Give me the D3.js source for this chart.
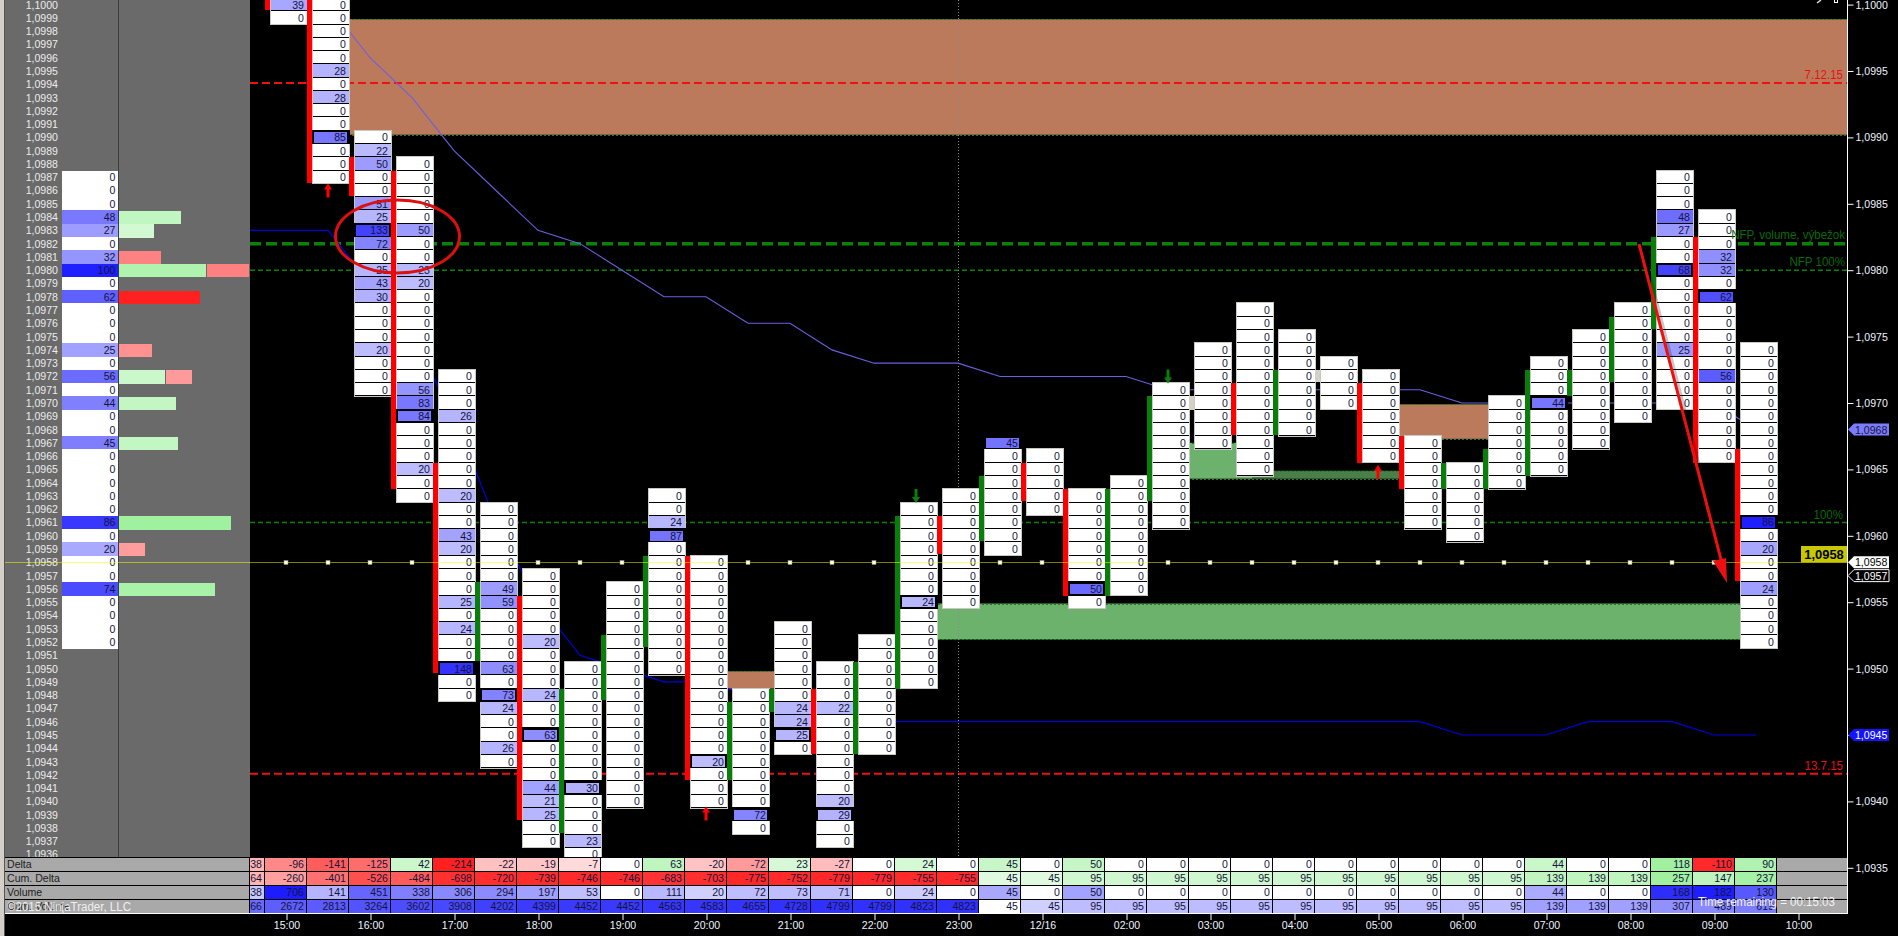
<!DOCTYPE html>
<html><head><meta charset="utf-8">
<script src="https://cdnjs.cloudflare.com/ajax/libs/d3/7.8.5/d3.min.js"></script>
<style>
html,body{margin:0;padding:0;background:#000;overflow:hidden}
svg{display:block}
text{font-family:"Liberation Sans",Arial,sans-serif;font-size:11px}
</style></head><body><svg id="c" width="1898" height="936"></svg>
<script>
// ---------- data ----------
const deltaRow   =[-38,-96,-141,-125,42,-214,-22,-19,-7,0,63,-20,-72,23,-27,0,24,0,45,0,50,0,0,0,0,0,0,0,0,0,0,44,0,0,118,-110,90];
const cumDelta   =[-164,-260,-401,-526,-484,-698,-720,-739,-746,-746,-683,-703,-775,-752,-779,-779,-755,-755,45,45,95,95,95,95,95,95,95,95,95,95,95,139,139,139,257,147,237];
const volumeRow  =[38,706,141,451,338,306,294,197,53,0,111,20,72,73,71,0,24,0,45,0,50,0,0,0,0,0,0,0,0,0,0,44,0,0,168,182,130];
const cumVolume  =[1966,2672,2813,3264,3602,3908,4202,4399,4452,4452,4563,4583,4655,4728,4799,4799,4823,4823,45,45,95,95,95,95,95,95,95,95,95,95,95,139,139,139,307,489,619];
const rowNames   =["Delta","Cum. Delta","Volume","Cum. Volume"];
const ladderTop  =[null,1.1000,1.1000,1.0990,1.0988,1.0972,1.0962,1.0957,1.0950,1.0956,1.0963,1.0958,1.0948,1.0953,1.0950,1.0952,1.0962,1.0963,1.0967,1.0966,1.0963,1.0964,1.0971,1.0974,1.0977,1.0975,1.0973,1.0972,1.0967,1.0965,1.0970,1.0973,1.0975,1.0977,1.0987,1.0984,1.0974];
const ladderValues=[[],
[39,0],
[0,0,0,0,0,28,0,28,0,0,85,0,0,0],
[0,22,50,0,0,51,25,133,72,0,25,43,30,0,0,0,20,0,0,0],
[0,0,0,0,0,50,0,0,23,20,0,0,0,0,0,0,0,56,83,84,0,0,0,20,0,0],
[0,0,0,26,0,0,0,0,0,20,0,0,43,20,0,0,0,25,0,24,0,0,148,0,0],
[0,0,0,0,0,0,49,59,0,0,0,0,63,0,73,24,0,0,26,0],
[0,0,0,0,0,20,0,0,0,24,0,0,63,0,0,0,44,21,25,0,0],
[0,0,0,0,0,0,0,0,0,30,0,0,0,23,0],
[0,0,0,0,0,0,0,0,0,0,0,0,0,0,0,0,0],
[0,0,24,87,0,0,0,0,0,0,0,0,0,0],
[0,0,0,0,0,0,0,0,0,0,0,0,0,0,0,20,0,0,0],
[0,0,0,0,0,0,0,0,0,72,0],
[0,0,0,0,0,0,24,24,25,0],
[0,0,0,22,0,0,0,0,0,0,20,29,0,0],
[0,0,0,0,0,0,0,0,0],
[0,0,0,0,0,0,0,24,0,0,0,0,0,0],
[0,0,0,0,0,0,0,0,0],
[45,0,0,0,0,0,0,0,0],
[0,0,0,0,0],
[0,0,0,0,0,0,0,50,0],
[0,0,0,0,0,0,0,0,0],
[0,0,0,0,0,0,0,0,0,0,0],
[0,0,0,0,0,0,0,0],
[0,0,0,0,0,0,0,0,0,0,0,0,0],
[0,0,0,0,0,0,0,0],
[0,0,0,0],
[0,0,0,0,0,0,0],
[0,0,0,0,0,0,0],
[0,0,0,0,0,0],
[0,0,0,0,0,0,0],
[0,0,0,44,0,0,0,0,0],
[0,0,0,0,0,0,0,0,0],
[0,0,0,0,0,0,0,0,0],
[0,0,0,48,27,0,0,68,0,0,0,0,0,25,0,0,0,0],
[0,0,0,32,32,0,62,0,0,0,0,0,56,0,0,0,0,0,0],
[0,0,0,0,0,0,0,0,0,0,0,0,0,86,0,20,0,0,24,0,0,0,0]];
const candleHigh=[null,1.1005,1.1005,1.09885,1.09875,1.09655,1.09565,1.09555,1.09485,1.09525,1.09585,1.09585,1.09475,1.09485,1.09485,1.09505,1.09615,1.09615,1.09645,1.09655,1.09635,1.09635,1.09705,1.09705,1.09715,1.09725,1.09725,1.09715,1.09675,1.09655,1.09665,1.09725,1.09725,1.09765,1.09825,1.09825,1.09665];
const candleLow =[null,1.09996,1.09866,1.09856,1.09635,1.09497,1.09506,1.09386,1.09376,1.09476,1.09516,1.09416,1.09416,1.09467,1.09436,1.09436,1.09485,1.09586,1.09596,1.09626,1.09555,1.09555,1.09626,1.09695,1.09676,1.09676,1.09716,1.09655,1.09635,1.09635,1.09635,1.09645,1.09705,1.09716,1.09756,1.09655,1.09566];
const candleDir =[0,-1,-1,-1,-1,-1,1,-1,1,1,1,-1,1,1,-1,1,1,-1,1,-1,-1,1,1,0,-1,1,0,-1,-1,1,1,1,1,1,1,-1,-1];
const upperLine =[null,1.1004,1.1000,1.0996,1.0993,1.0989,1.0986,1.0983,1.0982,1.0980,1.0978,1.0978,1.0976,1.0976,1.0974,1.0973,1.0973,1.0973,1.0972,1.0972,1.0972,1.0972,1.0971,1.0971,1.0971,1.0971,1.0971,1.0971,1.0971,1.0970,1.0970,1.0970,1.0970,1.0970,1.0970,1.0970,1.0968];
const lowerLine =[1.0983,1.0983,1.0983,1.0979,1.0975,1.0969,1.0961,1.0955,1.0951,1.0950,1.0949,1.0949,1.0948,1.0947,1.0946,1.0946,1.0946,1.0946,1.0946,1.0946,1.0946,1.0946,1.0946,1.0946,1.0946,1.0946,1.0946,1.0946,1.0946,1.0945,1.0945,1.0945,1.0946,1.0946,1.0946,1.0945,1.0945];
const profilePrices=[1.0987,1.0986,1.0985,1.0984,1.0983,1.0982,1.0981,1.0980,1.0979,1.0978,1.0977,1.0976,1.0975,1.0974,1.0973,1.0972,1.0971,1.0970,1.0969,1.0968,1.0967,1.0966,1.0965,1.0964,1.0963,1.0962,1.0961,1.0960,1.0959,1.0958,1.0957,1.0956,1.0955,1.0954,1.0953,1.0952];
const profileVol =[0,0,0,48,27,0,32,100,0,62,0,0,0,25,0,56,0,44,0,0,45,0,0,0,0,0,86,0,20,0,0,74,0,0,0,0];
const profileBuy =[0,0,0,48,27,0,0,67,0,0,0,0,0,0,0,35,0,44,0,0,45,0,0,0,0,0,86,0,0,0,0,74,0,0,0,0];
const profileSell=[0,0,0,0,0,0,32,33,0,62,0,0,0,25,0,21,0,0,0,0,0,0,0,0,0,0,0,0,20,0,0,0,0,0,0,0];
const timeBars   =[1,3,5,7,9,11,13,15,17,19,21,23,25,27,29,31,33,35,37];
const timeLabels =["15:00","16:00","17:00","18:00","19:00","20:00","21:00","22:00","23:00","12/16","02:00","03:00","04:00","05:00","06:00","07:00","08:00","09:00","10:00"];
const priceTicks =[1.1000,1.0995,1.0990,1.0985,1.0980,1.0975,1.0970,1.0965,1.0960,1.0955,1.0950,1.0945,1.0940,1.0935];
const levelNames =["7.12.15","13.7.15"];
const levelPrices=[1.0994,1.0942];
const greenLevels=[1.0982,1.0980,1.0961];
const greenNames =["NFP, volume, výbežok","NFP 100%","100%"];
const lastPrice  =1.0958, askPrice=1.0957, upperLast=1.0968, lowerLast=1.0945;
const upArrowBars=[2,11,27], upArrowPrices=[1.09866,1.09397,1.09654];
const downArrowBars=[16,22], downArrowPrices=[1.09624,1.09714];

// ---------- scales ----------
const W=1898,H=936,chartL=250,chartR=1847,chartB=857;
const x=d3.scaleLinear().domain([0,36]).range([244,1756]);
const y=d3.scaleLinear().domain([1.1000,1.0935]).range([4.6,867.8]);
const rowH=y(1.0999)-y(1.1000);
const barL=i=>x(i)-21;
const svg=d3.select("#c");
svg.append("rect").attr("width",W).attr("height",H).attr("fill","#000");
const defs=svg.append("defs");
defs.append("clipPath").attr("id","plot").append("rect").attr("x",chartL).attr("y",0).attr("width",chartR-chartL).attr("height",chartB);
defs.append("clipPath").attr("id","tbl").append("rect").attr("x",chartL).attr("y",850).attr("width",chartR-chartL).attr("height",70);
const fmt=p=>p.toFixed(4).replace(".",",");

// ---------- left panel ----------
svg.append("rect").attr("x",0).attr("y",0).attr("width",4).attr("height",H).attr("fill","#d4d0c8");
svg.append("rect").attr("x",4).attr("y",0).attr("width",1).attr("height",H).attr("fill","#555");
svg.append("rect").attr("x",5).attr("y",0).attr("width",245).attr("height",chartB).attr("fill","#6a6a6a");
const blue=d3.interpolateRgb("#ffffff","#0000ff");
const profVolCol=v=>v?blue(.2+.68*v/100):"#fff";
const profX=d3.scaleLinear().domain([0,100]).range([0,130]);
const buyCol=d3.scaleLinear().domain([27,86]).range(["#d2f9d2","#9ff09f"]);
const sellCol=d3.scaleLinear().domain([20,33,62]).range(["#ff9c9c","#ff8080","#ff2020"]);
const lp=svg.append("g");
profilePrices.forEach((p,k)=>{
  const top=y(p)-rowH/2;
  lp.append("rect").attr("x",62).attr("y",top).attr("width",56).attr("height",rowH+.5).attr("fill",profVolCol(profileVol[k])).attr("shape-rendering","crispEdges");
  lp.append("text").attr("x",115.5).attr("y",y(p)).attr("dy","0.36em").attr("text-anchor","end").attr("fill","#14143a").text(profileVol[k]);
  if(profileBuy[k]) lp.append("rect").attr("x",119).attr("y",top+.5).attr("width",profX(profileBuy[k])).attr("height",rowH).attr("fill",buyCol(profileBuy[k])).attr("shape-rendering","crispEdges");
  if(profileSell[k]) lp.append("rect").attr("x",119+profX(profileBuy[k])+(profileBuy[k]?1:0)).attr("y",top+.5).attr("width",profX(profileSell[k])-(profileBuy[k]?1:0)).attr("height",rowH).attr("fill",sellCol(profileSell[k])).attr("shape-rendering","crispEdges");
});
svg.append("line").attr("x1",118.5).attr("x2",118.5).attr("y1",0).attr("y2",chartB).attr("stroke","#3e3e3e");
d3.range(0,65).forEach(n=>{
  const p=1.1-n*1e-4;
  svg.append("text").attr("x",58).attr("y",y(p)).attr("dy","0.36em").attr("text-anchor","end").attr("fill","#ececec").text(fmt(p));
});

// ---------- plot underlay ----------
const plot=svg.append("g").attr("clip-path","url(#plot)");
function zone(x0,x1,p0,p1,col,edge){
  plot.append("rect").attr("x",x0).attr("y",y(p0)).attr("width",x1-x0).attr("height",y(p1)-y(p0)).attr("fill",col);
  [p0,p1].forEach(p=>plot.append("line").attr("x1",x0).attr("x2",x1).attr("y1",Math.round(y(p))+.5).attr("y2",Math.round(y(p))+.5).attr("stroke",edge).attr("stroke-dasharray","2,2"));
}
const brown="#bc7a5c",lgreen="#6cb26c",dgreen="#4a7f4a",edge="#1d7f1d";
zone(x(2),chartR,1.09989,1.09902,brown,edge);
zone(x(11),790,1.09498,1.09485,brown,edge);
zone(x(16)+2,x(36),1.09549,1.09522,lgreen,edge);
zone(x(22),1252,1.09670,1.09643,lgreen,edge);
zone(1252,1400,1.09649,1.09643,dgreen,edge);
zone(x(27),1504,1.09699,1.09673,brown,edge);
levelPrices.forEach(p=>plot.append("line").attr("x1",chartL).attr("x2",chartR).attr("y1",y(p)-1.2).attr("y2",y(p)-1.2).attr("stroke","#f01010").attr("stroke-width",2).attr("stroke-dasharray","8,4"));
const gw=[3.5,1.6,1.6],gd=["11,5","5,3","5,3"];
greenLevels.forEach((p,k)=>plot.append("line").attr("x1",chartL).attr("x2",chartR).attr("y1",y(p)).attr("y2",y(p)).attr("stroke","#0a820a").attr("stroke-width",gw[k]).attr("stroke-dasharray",gd[k]));
plot.append("line").attr("x1",x(17)+.5).attr("x2",x(17)+.5).attr("y1",0).attr("y2",chartB).attr("stroke","#8a8a8a").attr("stroke-dasharray","1,2");
const lineGen=d3.line().defined(d=>d!=null).x((d,i)=>x(i)).y(d=>y(d));
plot.append("path").attr("d",lineGen(upperLine)).attr("fill","none").attr("stroke","#6a60e0").attr("stroke-width",1.1);
plot.append("path").attr("d",lineGen(lowerLine)).attr("fill","none").attr("stroke","#0000dd").attr("stroke-width",1.2);

// ---------- ladders ----------
const cellCol=(v,i)=>v?blue(Math.min(.95,.18+.62*v/(i<18?148:76))):"#fff";
ladderValues.forEach((vals,i)=>{
  if(candleHigh[i]!=null){
    const col=candleDir[i]>0?"#087f08":candleDir[i]<0?"#ff0000":"#d4d0c8";
    plot.append("rect").attr("x",barL(i)).attr("y",y(candleHigh[i])).attr("width",5.5).attr("height",y(candleLow[i])-y(candleHigh[i])).attr("fill",col).attr("shape-rendering","crispEdges");
  }
  if(!vals.length) return;
  const g=plot.append("g");
  const cx=barL(i)+5.5, cw=36;
  const maxV=i===1?-1:d3.max(vals);
  const top=y(ladderTop[i])-rowH/2;
  g.append("rect").attr("x",cx-.5).attr("y",top-.5).attr("width",cw+1).attr("height",rowH*vals.length+.5).attr("fill","#000").attr("stroke","#c8c8c0").attr("shape-rendering","crispEdges");
  vals.forEach((v,k)=>{
    const p=ladderTop[i]-k*1e-4, yy=y(p), rt=yy-rowH/2;
    const poc=v===maxV&&v>0;
    if(poc){
      g.append("rect").attr("x",cx-1).attr("y",rt-1).attr("width",cw+2).attr("height",rowH+1).attr("fill","#000").attr("shape-rendering","crispEdges");
      g.append("rect").attr("x",cx+1.5).attr("y",rt+1.5).attr("width",cw-3).attr("height",rowH-3).attr("fill",cellCol(v,i)).attr("shape-rendering","crispEdges");
    } else {
      g.append("rect").attr("x",cx).attr("y",rt).attr("width",cw).attr("height",rowH-1).attr("fill",cellCol(v,i)).attr("shape-rendering","crispEdges");
    }
    g.append("text").attr("x",cx+cw-2.5).attr("y",yy).attr("dy","0.36em").attr("text-anchor","end").attr("fill","#14143a").text(v);
  });
});

// ---------- last price line and its dots (only where no ladder covers them) ----------
svg.append("line").attr("x1",5).attr("x2",chartR).attr("y1",Math.round(y(lastPrice))+.5).attr("y2",Math.round(y(lastPrice))+.5).attr("stroke","#ffff00").attr("stroke-opacity",.5);
d3.range(1,36).filter(i=>{
  const n=ladderValues[i].length, t=ladderTop[i];
  return !(t>=lastPrice-1e-6 && t-(n-1)*1e-4<=lastPrice+1e-6);
}).forEach(i=>svg.append("rect").attr("x",x(i)-2).attr("y",Math.round(y(lastPrice))-1.5).attr("width",4).attr("height",4).attr("fill","#fffff4").attr("stroke","#8a8a60").attr("stroke-width",.5));

// ---------- small arrows ----------
function arrow(g,cx,tipY,dir,col){
  const s=dir; // -1 up: tip on top, +1 down
  g.append("path").attr("fill",col).attr("d",d3.line()([[cx,tipY],[cx+4,tipY-s*6],[cx+1.5,tipY-s*6],[cx+1.5,tipY-s*14],[cx-1.5,tipY-s*14],[cx-1.5,tipY-s*6],[cx-4,tipY-s*6]])+"Z");
}
upArrowBars.forEach((b,k)=>arrow(plot,x(b),y(upArrowPrices[k])+1,-1,"#ff0000"));
downArrowBars.forEach((b,k)=>arrow(plot,x(b),y(downArrowPrices[k])-1,1,"#087f08"));

// ---------- level labels ----------
const lbl=svg.append("g").attr("text-anchor","end");
levelNames.forEach((t,k)=>lbl.append("text").attr("x",1843).attr("y",y(levelPrices[k])-5).attr("fill","#e81010").style("font-size","12px").text(t));
greenNames.forEach((t,k)=>lbl.append("text").attr("x",k==2?1843:1845).attr("y",y(greenLevels[k])-(k==0?5:4)).attr("fill","#066a06").style("font-size","12px").text(t));

// ---------- annotations ----------
svg.append("ellipse").attr("cx",397.5).attr("cy",236.5).attr("rx",62).attr("ry",36.5).attr("fill","none").attr("stroke","#dd1010").attr("stroke-width",3);
const ax0=1639,ay0=244,ax1=1727,ay1=583;
svg.append("line").attr("x1",ax0+3).attr("y1",ay0+3).attr("x2",ax1-3).attr("y2",ay1-20).attr("stroke","#000").attr("stroke-opacity",.22).attr("stroke-width",4);
svg.append("line").attr("x1",ax0).attr("y1",ay0).attr("x2",ax1-3).attr("y2",ay1-12).attr("stroke","#ee1010").attr("stroke-width",3);
svg.append("path").attr("fill","#ee1010").attr("d",d3.line()([[ax1,ay1],[1713,561],[1726,558]])+"Z");

// ---------- bottom table ----------
const delNeg=d3.scaleLinear().domain([0,7,22,96,141,214]).range(["#ffffff","#ffdada","#ffc0c0","#ff8888","#ff5c5c","#ff2020"]).clamp(true);
const gr=d3.interpolateRgb("#ffffff","#a0f0a0");
const delCol=(v,i)=>v===0?"#fff":v>0?gr(.3+.7*v/118):delNeg(-v*(i>=18?1.85:1));
const cdNeg=d3.scaleLinear().domain([0,164,260,401,526,698,775]).range(["#fff","#ffb4b4","#ffa0a0","#ff7070","#ff5050","#ff3030","#ff2828"]);
const cdPos=d3.scaleLinear().domain([0,45,95,139,257]).range(["#fff","#e0fae0","#d0f8d0","#c0f5c0","#a0f0a0"]);
const cdCol=v=>v<0?cdNeg(-v):cdPos(v);
const volS=d3.scaleLinear().domain([0,20,53,141,197,306,451,706]).range(["#fff","#d0d0ff","#c0c0ff","#b4b4ff","#a0a0ff","#8888ff","#6666ff","#1c1cff"]).clamp(true);
const volCol=(v,i)=>volS(v*(i>=18?3.85:1));
const cvE=d3.scaleLinear().domain([1966,2672,3908,4823]).range(["#6a6aff","#5e5eff","#4848ff","#3030ff"]);
const cvL=d3.scaleLinear().domain([0,45,95,139,307,489,619]).range(["#fff","#d0d0ff","#bcbcff","#a0a0ff","#9090ff","#8888ff","#7c7cff"]);
const cvCol=(v,i)=>i===18?"#fff":i<18?cvE(v):cvL(v);
const rows=[deltaRow,cumDelta,volumeRow,cumVolume], cols=[delCol,cdCol,volCol,cvCol];
const rowY=r=>858+14*r;
svg.append("rect").attr("x",5).attr("y",857).attr("width",chartR-5).attr("height",57).attr("fill","#000");
const tb=svg.append("g").attr("clip-path","url(#tbl)");
rows.forEach((row,r)=>{
  svg.append("rect").attr("x",5).attr("y",rowY(r)).attr("width",244).attr("height",13).attr("fill","#a9a9a9");
  svg.append("text").attr("x",7).attr("y",rowY(r)+6.5).attr("dy","0.36em").attr("fill","#1c1c1c").text(rowNames[r]);
  tb.append("rect").attr("x",barL(37)).attr("y",rowY(r)).attr("width",chartR-barL(37)).attr("height",13).attr("fill","#a9a9a9");
  row.forEach((v,i)=>{
    tb.append("rect").attr("x",barL(i)).attr("y",rowY(r)).attr("width",41).attr("height",13).attr("fill",cols[r](v,i));
    tb.append("text").attr("x",barL(i)+39).attr("y",rowY(r)+6.5).attr("dy","0.36em").attr("text-anchor","end").attr("fill","#14143a").text(v);
  });
});
svg.append("rect").attr("x",5).attr("y",913).attr("width",chartR-5).attr("height",1).attr("fill","#fff");
svg.append("text").attr("x",7).attr("y",911).attr("fill","#f0f0f0").style("font-size","12px").text("©2015 NinjaTrader, LLC");
svg.append("text").attr("x",1698).attr("y",906).attr("fill","#f4f4f4").style("font-size","12px").text("Time remaining = 00:15:03");

// ---------- axes ----------
const yAxis=svg.append("g").attr("transform",`translate(${chartR+.5},0)`).call(d3.axisRight(y).tickValues(priceTicks).tickSize(6).tickPadding(2).tickFormat(fmt));
yAxis.select(".domain").attr("d","M0,0V914").attr("stroke","#fff");
yAxis.selectAll("line").attr("stroke","#fff");
yAxis.selectAll("text").attr("fill","#eef4ff");
const xAxis=svg.append("g").attr("transform","translate(0.5,914)").call(d3.axisBottom(x).tickValues(timeBars).tickSize(6).tickPadding(1).tickFormat((d,k)=>timeLabels[k]));
xAxis.select(".domain").remove();
xAxis.selectAll("line").attr("stroke","#fff");
xAxis.selectAll("text").attr("fill","#eef4ff");
yAxis.attr("font-family",null).attr("font-size",null);
xAxis.attr("font-family",null).attr("font-size",null);

// ---------- axis tags ----------
function tag(p,bg,fg,stroke){
  const yy=y(p);
  svg.append("path").attr("d",`M1848,${yy}L1854,${yy-6}H1889V${yy+6}H1854Z`).attr("fill",bg).attr("stroke",stroke||"none");
  svg.append("text").attr("x",1855).attr("y",yy).attr("dy","0.36em").attr("fill",fg).text(fmt(p));
}
tag(upperLast,"#7c7cff","#14143a");
tag(lastPrice,"#ffffff","#000");
tag(askPrice,"#000","#fff","#fff");
tag(lowerLast,"#1414ff","#fff");
svg.append("rect").attr("x",1801).attr("y",546).attr("width",46).attr("height",16.5).attr("fill","#c8c800");
svg.append("text").attr("x",1824).attr("y",554.5).attr("dy","0.36em").attr("text-anchor","middle").attr("fill","#000").style("font-size","13.5px").style("font-weight","700").text(fmt(lastPrice));
// window glyphs at the top edge
svg.append("rect").attr("x",1834.5).attr("y",-1).attr("width",3).attr("height",3.5).attr("fill","none").attr("stroke","#fff");
svg.append("path").attr("d","M1817,3L1821,0").attr("stroke","#ddd").attr("stroke-width",1.5);

// ---------- narrow all text a little to the reference's proportions ----------
svg.selectAll("text").each(function(){
  const w=this.getComputedTextLength();
  if(w>0){ this.setAttribute("textLength",(w*.96).toFixed(2)); this.setAttribute("lengthAdjust","spacingAndGlyphs"); }
});
</script></body></html>
